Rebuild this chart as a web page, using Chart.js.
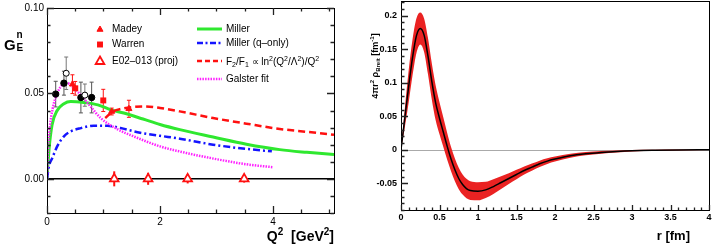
<!DOCTYPE html>
<html>
<head>
<meta charset="utf-8">
<script src="https://cdn.jsdelivr.net/npm/chart.js@4.4.0/dist/chart.umd.min.js"></script>
<style>
  body { margin: 0; background: #fff; }
  #wrap { position: relative; width: 713px; height: 252px; }
  #left { position: absolute; left: 0; top: 0; }
  #right { position: absolute; left: 360px; top: 0; }
</style>
</head>
<body>
<div id="wrap">
  <canvas id="left" width="360" height="252"></canvas>
  <canvas id="right" width="353" height="252"></canvas>
</div>
<script>
// ---- left panel: G_E^n vs Q^2 ----
var leftXTicks = [0, 2, 4];
var leftYTicks = [0, 0.05, 0.10];

var millerX = [0, 0.035, 0.09, 0.18, 0.3, 0.42, 0.65, 0.9, 1.13, 1.36, 1.7, 2.0, 2.35, 2.94, 3.53, 4.12, 4.6, 5.08];
var millerY = [0, 0.017, 0.0317, 0.040, 0.044, 0.0453, 0.0447, 0.0433, 0.0404, 0.0385, 0.035, 0.0318, 0.0288, 0.0245, 0.0203, 0.0171, 0.0155, 0.0142];

var qonlyX = [0, 0.035, 0.094, 0.18, 0.3, 0.42, 0.6, 0.83, 1.07, 1.3, 1.65, 2.0, 2.35, 2.94, 3.53, 3.98];
var qonlyY = [0, 0.0074, 0.0122, 0.019, 0.0249, 0.0278, 0.0297, 0.0311, 0.0311, 0.0297, 0.027, 0.0252, 0.0235, 0.020, 0.0175, 0.0161];

var ratioX = [1.03, 1.17, 1.32, 1.5, 1.7, 2.0, 2.35, 2.94, 3.53, 4.12, 4.6, 5.08];
var ratioY = [0.0356, 0.0395, 0.0410, 0.0420, 0.0424, 0.0415, 0.0395, 0.0356, 0.0323, 0.0292, 0.0275, 0.0258];

var galsterX = [0, 0.018, 0.05, 0.1, 0.18, 0.27, 0.36, 0.45, 0.6, 0.77, 0.95, 1.25, 1.53, 2.0, 2.47, 3.0, 3.53, 4.0];
var galsterY = [0, 0.017, 0.030, 0.041, 0.050, 0.055, 0.056, 0.054, 0.049, 0.0424, 0.0356, 0.029, 0.0249, 0.019, 0.0151, 0.0115, 0.0085, 0.0068];

var filledX = [0.154, 0.30, 0.60, 0.79];
var filledY = [0.0496, 0.056, 0.0476, 0.0476];
var filledErr = [0.0075, 0.007, 0.009, 0.009];

var openX = [0.34, 0.67];
var openY = [0.0618, 0.049];
var openErr = [0.0095, 0.0065];

var madeyX = [0.45, 1.145, 1.45];
var madeyY = [0.0554, 0.0394, 0.041];
var madeyErr = [0.0055, 0.002, 0.005];

var warrenX = [0.50, 0.996];
var warrenY = [0.053, 0.0459];
var warrenErr = [0.004, 0.0065];

var e02X = [1.19, 1.79, 2.49, 3.49];
var e02Y = [0, 0, 0, 0];
var e02Err = [0.0044, 0.0035, 0.0027, 0.0022];

// ---- right panel: 4 pi r^2 rho_Breit vs r ----
var rightXTicks = [0, 0.5, 1, 1.5, 2, 2.5, 3, 3.5, 4];
var rightYTicks = [-0.05, 0, 0.05, 0.1, 0.15, 0.2];

var rVals = [0, 0.05, 0.1, 0.15, 0.2, 0.25, 0.3, 0.35, 0.4, 0.45, 0.5, 0.55, 0.6, 0.65, 0.7, 0.75, 0.8, 0.85, 0.9, 1.0,
             1.1, 1.2, 1.3, 1.4, 1.5, 1.6, 1.7, 1.8, 1.9, 2.0, 2.2, 2.4, 2.6, 2.8, 3.0, 3.3, 3.6, 4.0];
var rhoVals = [0, 0.048, 0.095, 0.138, 0.170, 0.181, 0.171, 0.140, 0.102, 0.070, 0.047, 0.026, 0.005, -0.014, -0.030, -0.043, -0.052, -0.058, -0.061, -0.062,
               -0.060, -0.055, -0.049, -0.043, -0.037, -0.031, -0.026, -0.021, -0.017, -0.014, -0.009, -0.006, -0.004, -0.0025, -0.0015, -0.0008, -0.0004, -0.0001];
var rhoErr = [0, 0.014, 0.024, 0.027, 0.026, 0.024, 0.025, 0.027, 0.027, 0.026, 0.024, 0.022, 0.020, 0.018, 0.017, 0.016, 0.015, 0.0145, 0.014, 0.0135,
              0.012, 0.011, 0.0095, 0.008, 0.007, 0.006, 0.0053, 0.0047, 0.0042, 0.0037, 0.003, 0.0024, 0.0019, 0.0015, 0.0011, 0.0008, 0.0006, 0.0004];

var FONT = '"Liberation Sans", Arial, sans-serif';
var GREEN = '#2fe82f', BLUE = '#1414ff', RED = '#ff1010', MAGENTA = '#ff22ff', BAND = '#ea2222';

function pts(xs, ys) {
  return xs.map(function(x, i) { return {x: x, y: ys[i]}; });
}

function range(a, b, step, skip) {
  var out = [];
  for (var v = a; v <= b + 1e-9; v += step) {
    var r = Math.round(v * 1000) / 1000;
    if (!skip || Math.abs(r / skip - Math.round(r / skip)) > 1e-6) out.push(r);
  }
  return out;
}

function errBars(ctx, xs, ys, xv, yv, ev, color, width, cap) {
  ctx.strokeStyle = color;
  ctx.lineWidth = width;
  for (var i = 0; i < xv.length; i++) {
    var px = xs.getPixelForValue(xv[i]);
    var hi = ys.getPixelForValue(yv[i] + ev[i]);
    var lo = ys.getPixelForValue(yv[i] - ev[i]);
    ctx.beginPath();
    ctx.moveTo(px, hi); ctx.lineTo(px, lo);
    if (cap) {
      ctx.moveTo(px - cap, hi); ctx.lineTo(px + cap, hi);
      ctx.moveTo(px - cap, lo); ctx.lineTo(px + cap, lo);
    }
    ctx.stroke();
  }
}

// ROOT style: ticks point into the frame
function innerTicks(ctx, scale, area, vals, len, both) {
  ctx.strokeStyle = '#222';
  ctx.lineWidth = 1.3;
  ctx.setLineDash([]);
  var horiz = scale.isHorizontal();
  ctx.beginPath();
  vals.forEach(function(v) {
    var p = Math.round(scale.getPixelForValue(v)) + 0.5;
    if (horiz) {
      ctx.moveTo(p, area.bottom); ctx.lineTo(p, area.bottom - len);
      if (both) { ctx.moveTo(p, area.top); ctx.lineTo(p, area.top + len); }
    } else {
      ctx.moveTo(area.left, p); ctx.lineTo(area.left + len, p);
      if (both) { ctx.moveTo(area.right, p); ctx.lineTo(area.right - len, p); }
    }
  });
  ctx.stroke();
}

function frame(ctx, a) {
  ctx.strokeStyle = '#000';
  ctx.lineWidth = 1;
  ctx.strokeRect(Math.round(a.left) + 0.5, Math.round(a.top) + 0.5,
                 Math.round(a.right - a.left), Math.round(a.bottom - a.top));
}

// parts: [text, 0 normal | 1 superscript | -1 subscript]
function richText(ctx, parts, x, y, size, weight, align) {
  var small = Math.round(size * 0.7);
  var widths = parts.map(function(p) {
    ctx.font = weight + ' ' + (p[1] ? small : size) + 'px ' + FONT;
    return ctx.measureText(p[0]).width;
  });
  var total = widths.reduce(function(s, w) { return s + w; }, 0);
  var cx = align === 'center' ? x - total / 2 : (align === 'right' ? x - total : x);
  ctx.textAlign = 'left';
  ctx.textBaseline = 'alphabetic';
  parts.forEach(function(p, i) {
    ctx.font = weight + ' ' + (p[1] ? small : size) + 'px ' + FONT;
    var dy = p[1] === 1 ? -size * 0.4 : (p[1] === -1 ? size * 0.25 : 0);
    ctx.fillText(p[0], cx, y + dy);
    cx += widths[i];
  });
}

function marker(ctx, style, x, y, r, fill, stroke, lw) {
  ctx.beginPath();
  if (style === 'triangle') {
    ctx.moveTo(x, y - r);
    ctx.lineTo(x + r * 0.866, y + r * 0.5);
    ctx.lineTo(x - r * 0.866, y + r * 0.5);
    ctx.closePath();
  } else if (style === 'rect') {
    var s = r * Math.SQRT1_2;
    ctx.rect(x - s, y - s, 2 * s, 2 * s);
  } else {
    ctx.arc(x, y, r, 0, Math.PI * 2);
  }
  ctx.fillStyle = fill;
  ctx.fill();
  if (lw) { ctx.strokeStyle = stroke; ctx.lineWidth = lw; ctx.stroke(); }
}

function legendLine(ctx, y, color, width, dash, label) {
  ctx.save();
  ctx.strokeStyle = color;
  ctx.lineWidth = width;
  ctx.setLineDash(dash);
  ctx.beginPath();
  ctx.moveTo(197, y); ctx.lineTo(222, y);
  ctx.stroke();
  ctx.restore();
  ctx.fillStyle = '#000';
  if (typeof label === 'string') {
    ctx.font = '10px ' + FONT;
    ctx.textAlign = 'left';
    ctx.textBaseline = 'middle';
    ctx.fillText(label, 226, y);
  } else {
    richText(ctx, label, 226, y + 3.5, 10, 'normal', 'left');
  }
}

var leftDeco = {
  id: 'leftDeco',
  beforeDatasetsDraw: function(chart) {
    var ctx = chart.ctx, xs = chart.scales.x, ys = chart.scales.y, a = chart.chartArea;
    ctx.save();
    var y0 = ys.getPixelForValue(0);
    ctx.strokeStyle = '#000';
    ctx.lineWidth = 1.5;
    ctx.beginPath();
    ctx.moveTo(a.left, y0); ctx.lineTo(a.right, y0);
    ctx.stroke();
    errBars(ctx, xs, ys, filledX, filledY, filledErr, '#555', 1, 2);
    errBars(ctx, xs, ys, openX, openY, openErr, '#777', 1, 2);
    errBars(ctx, xs, ys, madeyX, madeyY, madeyErr, RED, 1, 2);
    errBars(ctx, xs, ys, warrenX, warrenY, warrenErr, RED, 1, 2);
    errBars(ctx, xs, ys, e02X, e02Y, e02Err, RED, 2, 0);
    ctx.restore();
  },
  afterDraw: function(chart) {
    var ctx = chart.ctx, xs = chart.scales.x, ys = chart.scales.y, a = chart.chartArea;
    ctx.save();
    frame(ctx, a);
    innerTicks(ctx, xs, a, leftXTicks, 7, true);
    innerTicks(ctx, xs, a, range(0, 5, 0.5, 2), 3.5, true);
    innerTicks(ctx, ys, a, leftYTicks, 7, true);
    innerTicks(ctx, ys, a, range(-0.02, 0.1, 0.01, 0.05), 3.5, true);

    // left legend (data)
    ctx.font = '10px ' + FONT;
    ctx.textAlign = 'left';
    ctx.textBaseline = 'middle';
    ctx.fillStyle = '#000';
    ctx.fillText('Madey', 112, 29);
    ctx.fillText('Warren', 112, 44.5);
    ctx.fillText('E02\u2013013 (proj)', 112, 61);
    marker(ctx, 'triangle', 100, 29.5, 3.5, RED, RED, 1);
    marker(ctx, 'rect', 100, 44.5, 4.2, RED, RED, 0);
    marker(ctx, 'triangle', 100, 61.5, 5, '#fff', RED, 1.8);

    // right legend (curves)
    legendLine(ctx, 29, GREEN, 3, [], 'Miller');
    legendLine(ctx, 43, BLUE, 2.5, [6, 2.5, 2, 2.5], 'Miller (q\u2013only)');
    legendLine(ctx, 61, RED, 2.5, [5, 3], [['F', 0], ['2', -1], ['/F', 0], ['1', -1], [' \u221d ln', 0], ['2', 1], ['(Q', 0], ['2', 1], ['/\u039b', 0], ['2', 1], [')/Q', 0], ['2', 1]]);
    legendLine(ctx, 79, MAGENTA, 2.5, [1.5, 1.2], 'Galster fit');

    // axis titles
    ctx.fillStyle = '#000';
    ctx.font = 'bold 15px ' + FONT;
    ctx.textAlign = 'left';
    ctx.textBaseline = 'alphabetic';
    ctx.fillText('G', 4, 50);
    ctx.font = 'bold 10px ' + FONT;
    ctx.fillText('n', 16.5, 37.5);
    ctx.fillText('E', 16.5, 50.5);
    richText(ctx, [['Q', 0], ['2', 1], ['  [GeV', 0], ['2', 1], [']', 0]], 334, 241, 14, 'bold', 'right');
    ctx.restore();
  }
};

var rightDeco = {
  id: 'rightDeco',
  beforeDatasetsDraw: function(chart) {
    var ctx = chart.ctx, ys = chart.scales.y, a = chart.chartArea;
    ctx.save();
    var y0 = Math.round(ys.getPixelForValue(0)) + 0.5;
    ctx.strokeStyle = '#aaa';
    ctx.lineWidth = 1;
    ctx.beginPath();
    ctx.moveTo(a.left, y0); ctx.lineTo(a.right, y0);
    ctx.stroke();
    ctx.restore();
  },
  afterDraw: function(chart) {
    var ctx = chart.ctx, xs = chart.scales.x, ys = chart.scales.y, a = chart.chartArea;
    ctx.save();
    frame(ctx, a);
    innerTicks(ctx, xs, a, rightXTicks, 5, false);
    innerTicks(ctx, xs, a, range(0, 4, 0.1, 0.5), 2.5, false);
    innerTicks(ctx, ys, a, rightYTicks, 7, false);
    innerTicks(ctx, ys, a, range(-0.09, 0.22, 0.01, 0.05), 3.5, false);
    ctx.fillStyle = '#000';
    richText(ctx, [['r [fm]', 0]], 330, 240, 13, 'bold', 'right');
    ctx.translate(17.5, 66);
    ctx.rotate(-Math.PI / 2);
    richText(ctx, [['4\u03c0r', 0], ['2', 1], [' \u03c1', 0], ['Breit', -1], [' [fm', 0], ['-1', 1], [']', 0]], 0, 0, 9, 'bold', 'center');
    ctx.restore();
  }
};

function curve(xs, ys, color, width, dash) {
  return {data: pts(xs, ys), showLine: true, pointRadius: 0, borderColor: color, borderWidth: width,
          borderDash: dash, cubicInterpolationMode: 'monotone', fill: false};
}

function axisFont(size, weight) {
  return {family: FONT, size: size, weight: weight};
}

// keep the plot frame where it is, whatever the edge labels need
function noEdgePad(s) {
  s.paddingTop = 0;
  s.paddingBottom = 0;
  s.paddingLeft = 0;
  s.paddingRight = 0;
}

new Chart(document.getElementById('left'), {
  type: 'scatter',
  data: {
    datasets: [
      {data: pts(e02X, e02Y), pointStyle: 'triangle', pointRadius: 5, backgroundColor: '#fff', borderColor: RED, borderWidth: 1.8},
      {data: pts(madeyX, madeyY), pointStyle: 'triangle', pointRadius: 3.5, backgroundColor: RED, borderColor: RED, borderWidth: 1},
      {data: pts(warrenX, warrenY), pointStyle: 'rect', pointRadius: 4.2, backgroundColor: RED, borderColor: RED, borderWidth: 0},
      {data: pts(openX, openY), pointStyle: 'circle', pointRadius: 3, backgroundColor: '#fff', borderColor: '#000', borderWidth: 1},
      {data: pts(filledX, filledY), pointStyle: 'circle', pointRadius: 3.2, backgroundColor: '#000', borderColor: '#000', borderWidth: 1},
      curve(galsterX, galsterY, MAGENTA, 2.5, [1.5, 1.2]),
      curve(ratioX, ratioY, RED, 2.5, [7, 4]),
      curve(qonlyX, qonlyY, BLUE, 2.5, [7, 3, 2, 3]),
      curve(millerX, millerY, GREEN, 3, [])
    ]
  },
  options: {
    responsive: false,
    animation: false,
    devicePixelRatio: 1,
    layout: {padding: {left: 0, right: 26, top: 8, bottom: 0}},
    plugins: {legend: {display: false}, tooltip: {enabled: false}},
    scales: {
      x: {
        type: 'linear', min: 0, max: 5.08,
        grid: {display: false, drawTicks: false}, border: {display: false},
        afterFit: function(s) { s.height = 39; noEdgePad(s); },
        afterBuildTicks: function(s) { s.ticks = leftXTicks.map(function(v) { return {value: v}; }); },
        ticks: {autoSkip: false, maxRotation: 0, padding: 3, color: '#000', font: axisFont(10, 'normal'),
                callback: function(v) { return String(v); }}
      },
      y: {
        type: 'linear', min: -0.02, max: 0.10,
        grid: {display: false, drawTicks: false}, border: {display: false},
        afterFit: function(s) { s.width = 47; noEdgePad(s); },
        afterBuildTicks: function(s) { s.ticks = leftYTicks.map(function(v) { return {value: v}; }); },
        ticks: {autoSkip: false, padding: 3, color: '#000', font: axisFont(10, 'normal'),
                callback: function(v) { return v.toFixed(2); }}
      }
    }
  },
  plugins: [leftDeco]
});

new Chart(document.getElementById('right'), {
  type: 'scatter',
  data: {
    datasets: [
      {data: pts(rVals, rhoVals), showLine: true, pointRadius: 0, borderColor: '#000', borderWidth: 1.5,
       cubicInterpolationMode: 'monotone', fill: false},
      {data: rVals.map(function(r, i) { return {x: r, y: rhoVals[i] + rhoErr[i]}; }), showLine: true, pointRadius: 0,
       borderWidth: 0, borderColor: BAND, backgroundColor: BAND, cubicInterpolationMode: 'monotone', fill: '+1'},
      {data: rVals.map(function(r, i) { return {x: r, y: rhoVals[i] - rhoErr[i]}; }), showLine: true, pointRadius: 0,
       borderWidth: 0, borderColor: BAND, backgroundColor: BAND, cubicInterpolationMode: 'monotone', fill: false}
    ]
  },
  options: {
    responsive: false,
    animation: false,
    devicePixelRatio: 1,
    layout: {padding: {left: 0, right: 4, top: 1, bottom: 0}},
    plugins: {legend: {display: false}, tooltip: {enabled: false}},
    scales: {
      x: {
        type: 'linear', min: 0, max: 4,
        grid: {display: false, drawTicks: false}, border: {display: false},
        afterFit: function(s) { s.height = 42; noEdgePad(s); },
        afterBuildTicks: function(s) { s.ticks = rightXTicks.map(function(v) { return {value: v}; }); },
        ticks: {autoSkip: false, maxRotation: 0, padding: 2, color: '#000', font: axisFont(9, 'bold'),
                callback: function(v) { return String(Math.round(v * 10) / 10); }}
      },
      y: {
        type: 'linear', min: -0.09, max: 0.222,
        grid: {display: false, drawTicks: false}, border: {display: false},
        afterFit: function(s) { s.width = 41; noEdgePad(s); },
        afterBuildTicks: function(s) { s.ticks = rightYTicks.map(function(v) { return {value: v}; }); },
        ticks: {autoSkip: false, padding: 4, color: '#000', font: axisFont(9, 'bold'),
                callback: function(v) { return String(Math.round(v * 100) / 100); }}
      }
    }
  },
  plugins: [rightDeco]
});
</script>
</body>
</html>
